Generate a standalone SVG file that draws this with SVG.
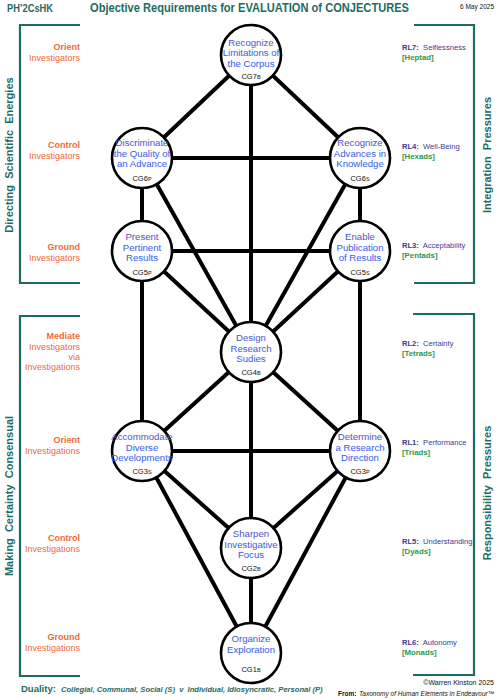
<svg xmlns="http://www.w3.org/2000/svg" width="501" height="700" viewBox="0 0 501 700">
<defs>
<linearGradient id="tg" x1="0" y1="0" x2="0" y2="1">
<stop offset="0" stop-color="#5b4fac"/>
<stop offset="0.45" stop-color="#3f56e0"/>
<stop offset="1" stop-color="#2c5cf6"/>
</linearGradient>
</defs>
<style>
.conn line{stroke:#000;stroke-width:4;stroke-linecap:round}
.nd circle{fill:#fff;stroke:#000;stroke-width:2.6}
.nt{font-family:"Liberation Sans",Arial,sans-serif;font-size:9.6px;text-anchor:middle;fill:url(#tg)}
.cg{font-family:"Liberation Sans",Arial,sans-serif;font-size:7.5px;text-anchor:middle;fill:#111}
.sm{font-size:5.5px}
.br{fill:none;stroke:#1d6b65;stroke-width:2.2}
.vt{font-family:"Liberation Sans",Arial,sans-serif;font-size:11px;font-weight:bold;fill:#1d6b65;text-anchor:middle}
.ll{font-family:"Liberation Sans",Arial,sans-serif;font-size:9px;fill:#f2693a;text-anchor:end}
.b{font-weight:bold}
.rl{font-family:"Liberation Sans",Arial,sans-serif;font-size:7.6px;fill:#3b3b98}
.rg{font-family:"Liberation Sans",Arial,sans-serif;font-size:7.8px;fill:#2a9a4a;font-weight:bold}
.tt{font-family:"Liberation Sans",Arial,sans-serif;font-weight:bold;fill:#1d6b65}
.ft{font-family:"Liberation Sans",Arial,sans-serif;fill:#111}
</style>
<rect width="501" height="700" fill="#fff"/>

<g id="header">
<text class="tt" x="7" y="11.5" font-size="10.5" textLength="46" lengthAdjust="spacingAndGlyphs">PH’2CsHK</text>
<text class="tt" x="90" y="11.5" font-size="12.5" textLength="319" lengthAdjust="spacingAndGlyphs">Objective Requirements for EVALUATION of CONJECTURES</text>
<text class="ft" x="494" y="8.5" font-size="6.5" text-anchor="end">6 May 2025</text>
</g>

<g id="brackets">
<path class="br" d="M80,25 H20 V283 H80"/>
<path class="br" d="M414,25 H474 V283 H414"/>
<path class="br" d="M80,316 H20 V676 H80"/>
<path class="br" d="M413,314 H474 V675 H413"/>
<text class="vt" transform="translate(13,155) rotate(-90)" xml:space="preserve">Directing  Scientific  Energies</text>
<text class="vt" transform="translate(13,496) rotate(-90)" xml:space="preserve">Making  Certainty  Consensual</text>
<text class="vt" transform="translate(491,155) rotate(-90)" xml:space="preserve">Integration  Pressures</text>
<text class="vt" transform="translate(491,493) rotate(-90)" xml:space="preserve">Responsibility  Pressures</text>
</g>

<g id="left-labels">
<text class="ll b" x="80" y="50">Orient</text>
<text class="ll" x="80" y="61">Investigators</text>
<text class="ll b" x="80" y="148">Control</text>
<text class="ll" x="80" y="159">Investigators</text>
<text class="ll b" x="80" y="250">Ground</text>
<text class="ll" x="80" y="261">Investigators</text>
<text class="ll b" x="80" y="339">Mediate</text>
<text class="ll" x="80" y="350">Investigators</text>
<text class="ll" x="80" y="360">via</text>
<text class="ll" x="80" y="370">Investigations</text>
<text class="ll b" x="80" y="443">Orient</text>
<text class="ll" x="80" y="454">Investigations</text>
<text class="ll b" x="80" y="541">Control</text>
<text class="ll" x="80" y="552">Investigations</text>
<text class="ll b" x="80" y="640">Ground</text>
<text class="ll" x="80" y="651">Investigations</text>
</g>

<g id="right-labels">
<text class="rl" x="402" y="50" xml:space="preserve"><tspan class="b">RL7:</tspan>  Selflessness</text>
<text class="rg" x="402" y="60">[Heptad]</text>
<text class="rl" x="402" y="149" xml:space="preserve"><tspan class="b">RL4:</tspan>  Well-Being</text>
<text class="rg" x="402" y="159">[Hexads]</text>
<text class="rl" x="402" y="248" xml:space="preserve"><tspan class="b">RL3:</tspan>  Acceptability</text>
<text class="rg" x="402" y="258">[Pentads]</text>
<text class="rl" x="402" y="346" xml:space="preserve"><tspan class="b">RL2:</tspan>  Certainty</text>
<text class="rg" x="402" y="356">[Tetrads]</text>
<text class="rl" x="402" y="445" xml:space="preserve"><tspan class="b">RL1:</tspan>  Performance</text>
<text class="rg" x="402" y="455">[Triads]</text>
<text class="rl" x="402" y="544" xml:space="preserve"><tspan class="b">RL5:</tspan>  Understanding</text>
<text class="rg" x="402" y="554">[Dyads]</text>
<text class="rl" x="402" y="645" xml:space="preserve"><tspan class="b">RL6:</tspan>  Autonomy</text>
<text class="rg" x="402" y="655">[Monads]</text>
</g>

<g id="connectors" class="conn">
<line x1="251" y1="55" x2="142" y2="158"/>
<line x1="251" y1="55" x2="360" y2="158"/>
<line x1="251" y1="55" x2="251" y2="352"/>
<line x1="142" y1="158" x2="360" y2="158"/>
<line x1="142" y1="158" x2="142" y2="251"/>
<line x1="360" y1="158" x2="360" y2="251"/>
<line x1="142" y1="158" x2="251" y2="352"/>
<line x1="360" y1="158" x2="251" y2="352"/>
<line x1="142" y1="251" x2="360" y2="251"/>
<line x1="142" y1="251" x2="251" y2="352"/>
<line x1="360" y1="251" x2="251" y2="352"/>
<line x1="142" y1="251" x2="142" y2="451"/>
<line x1="360" y1="251" x2="360" y2="451"/>
<line x1="251" y1="352" x2="142" y2="451"/>
<line x1="251" y1="352" x2="360" y2="451"/>
<line x1="142" y1="451" x2="360" y2="451"/>
<line x1="251" y1="352" x2="251" y2="548"/>
<line x1="142" y1="451" x2="251" y2="548"/>
<line x1="360" y1="451" x2="251" y2="548"/>
<line x1="142" y1="451" x2="251" y2="653"/>
<line x1="360" y1="451" x2="251" y2="653"/>
<line x1="251" y1="548" x2="251" y2="653"/>
</g>

<g id="CG7B" class="nd">
<circle cx="251" cy="55" r="30"/>
<text class="nt"><tspan x="251" y="45.5">Recognize</tspan><tspan x="251" y="56">Limitations of</tspan><tspan x="251" y="66.5">the Corpus</tspan></text>
<text class="cg" x="251" y="79">CG7<tspan class="sm">B</tspan></text>
</g>
<g id="CG6P" class="nd">
<circle cx="142" cy="158" r="30"/>
<text class="nt"><tspan x="142" y="146">Discriminate</tspan><tspan x="142" y="156.5">the Quality of</tspan><tspan x="142" y="167">an Advance</tspan></text>
<text class="cg" x="142" y="181">CG6<tspan class="sm">P</tspan></text>
</g>
<g id="CG6S" class="nd">
<circle cx="360" cy="158" r="30"/>
<text class="nt"><tspan x="360" y="146">Recognize</tspan><tspan x="360" y="156.5">Advances in</tspan><tspan x="360" y="167">Knowledge</tspan></text>
<text class="cg" x="360" y="181">CG6<tspan class="sm">S</tspan></text>
</g>
<g id="CG5P" class="nd">
<circle cx="142" cy="251" r="30"/>
<text class="nt"><tspan x="142" y="240">Present</tspan><tspan x="142" y="250.5">Pertinent</tspan><tspan x="142" y="261">Results</tspan></text>
<text class="cg" x="142" y="275">CG5<tspan class="sm">P</tspan></text>
</g>
<g id="CG5S" class="nd">
<circle cx="360" cy="251" r="30"/>
<text class="nt"><tspan x="360" y="240">Enable</tspan><tspan x="360" y="250.5">Publication</tspan><tspan x="360" y="261">of Results</tspan></text>
<text class="cg" x="360" y="275">CG5<tspan class="sm">S</tspan></text>
</g>
<g id="CG4B" class="nd">
<circle cx="251" cy="352" r="30"/>
<text class="nt"><tspan x="251" y="341">Design</tspan><tspan x="251" y="351.5">Research</tspan><tspan x="251" y="362">Sudies</tspan></text>
<text class="cg" x="251" y="375">CG4<tspan class="sm">B</tspan></text>
</g>
<g id="CG3S" class="nd">
<circle cx="142" cy="451" r="30"/>
<text class="nt"><tspan x="142" y="440">Accommodate</tspan><tspan x="142" y="450.5">Diverse</tspan><tspan x="142" y="461">Developments</tspan></text>
<text class="cg" x="142" y="474">CG3<tspan class="sm">S</tspan></text>
</g>
<g id="CG3P" class="nd">
<circle cx="360" cy="451" r="30"/>
<text class="nt"><tspan x="360" y="440">Determine</tspan><tspan x="360" y="450.5">a Research</tspan><tspan x="360" y="461">Direction</tspan></text>
<text class="cg" x="360" y="474">CG3<tspan class="sm">P</tspan></text>
</g>
<g id="CG2B" class="nd">
<circle cx="251" cy="548" r="30"/>
<text class="nt"><tspan x="251" y="537">Sharpen</tspan><tspan x="251" y="547.5">Investigative</tspan><tspan x="251" y="558">Focus</tspan></text>
<text class="cg" x="251" y="571">CG2<tspan class="sm">B</tspan></text>
</g>
<g id="CG1B" class="nd">
<circle cx="251" cy="653" r="30"/>
<text class="nt"><tspan x="251" y="641.5">Organize</tspan><tspan x="251" y="652.5">Exploration</tspan></text>
<text class="cg" x="251" y="672">CG1<tspan class="sm">B</tspan></text>
</g>

<g id="footer">
<text class="tt" x="21" y="692" font-size="9.5">Duality:</text>
<text class="tt" x="61" y="692" font-size="7.6" font-weight="normal" font-style="italic" xml:space="preserve">Collegial, Communal, Social (S)  v  Individual, Idiosyncratic, Personal (P)</text>
<text class="ft" x="494" y="684.5" font-size="7" text-anchor="end">©Warren Kinston 2025</text>
<text class="ft" x="338" y="696" font-size="6.5" font-weight="bold">From:</text>
<text class="ft" x="359" y="696" font-size="6.5" font-style="italic">Taxonomy of Human Elements in Endeavour™</text>
</g>
</svg>
